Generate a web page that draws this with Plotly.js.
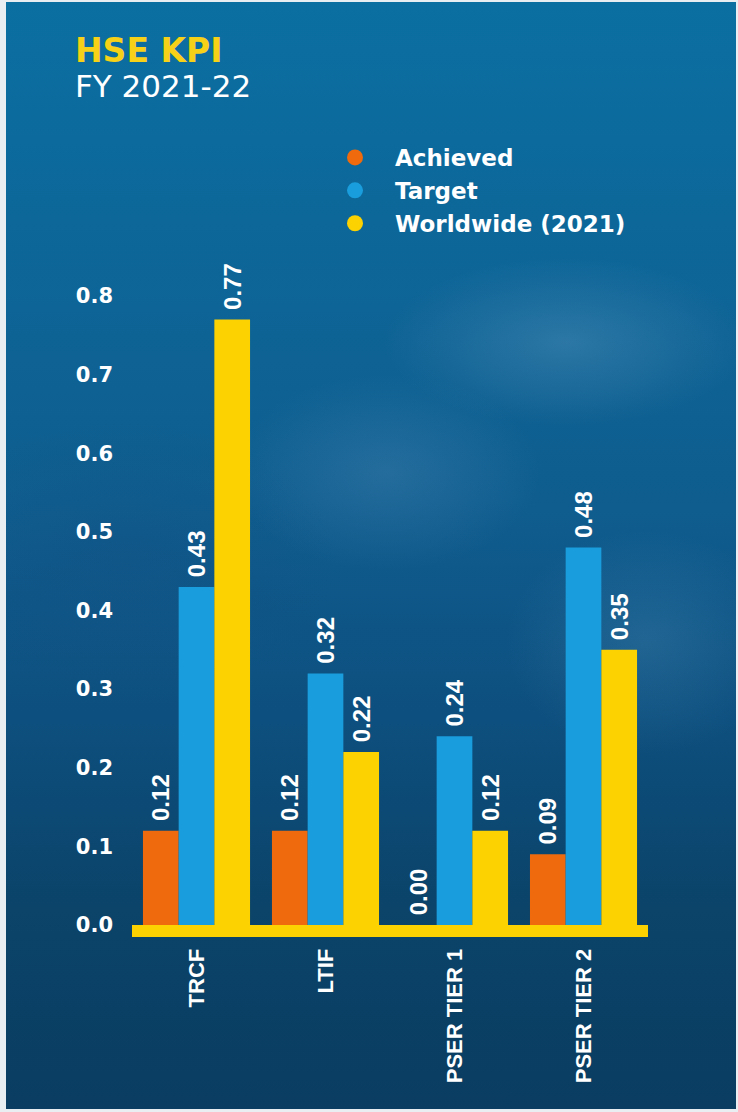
<!DOCTYPE html>
<html>
<head>
<meta charset="utf-8">
<script src="https://cdn.plot.ly/plotly-3.0.1.min.js"></script>
<style>
  html, body { margin: 0; padding: 0; background: #e9eef2; }
  #frame {
    position: absolute; left: 6px; top: 2px; width: 730px; height: 1107px;
    background:
      radial-gradient(ellipse 260px 120px at 560px 340px, rgba(120,170,205,0.28), rgba(120,170,205,0) 70%),
      radial-gradient(ellipse 220px 140px at 380px 470px, rgba(110,160,200,0.22), rgba(110,160,200,0) 70%),
      radial-gradient(ellipse 200px 160px at 640px 640px, rgba(100,160,200,0.22), rgba(100,160,200,0) 70%),
      radial-gradient(ellipse 300px 200px at 120px 560px, rgba(20,80,130,0.35), rgba(20,80,130,0) 70%),
      linear-gradient(to bottom, #0b6fa2 0%, #0d6799 20%, #0f5d8f 45%, #0d4f7e 65%, #0b4369 82%, #0a3d61 100%);
  }
  #chart { position: absolute; left: 0; top: 0; width: 738px; height: 1112px; }
</style>
</head>
<body>
<div id="frame"></div>
<div id="chart"></div>
<script>
const categories = ["TRCF", "LTIF", "PSER TIER 1", "PSER TIER 2"];
const seriesNames = ["Achieved", "Target", "Worldwide (2021)"];
const achieved  = [0.12, 0.12, 0.00, 0.09];
const target    = [0.43, 0.32, 0.24, 0.48];
const worldwide = [0.77, 0.22, 0.12, 0.35];
const yTickVals = [0, 0.1, 0.2, 0.3, 0.4, 0.5, 0.6, 0.7, 0.8];
const yTickText = ["0.0", "0.1", "0.2", "0.3", "0.4", "0.5", "0.6", "0.7", "0.8"];
const titleLine1 = "HSE KPI";
const titleLine2 = "FY 2021-22";

const colors = ["#ef6a0d", "#1a9ddc", "#fcd200"];
const seriesValues = [achieved, target, worldwide];

const libBold = "Liberation Sans, Arial, sans-serif";
const dejaBold = "DejaVu Sans, sans-serif";

const traces = [];
seriesValues.forEach((vals, i) => {
  traces.push({
    type: "bar",
    name: seriesNames[i],
    x: categories,
    y: vals,
    marker: { color: colors[i] },
    text: vals.map(v => "\u00a0" + v.toFixed(2)),
    texttemplate: "%{text}",
    textposition: "outside",
    textangle: -90,
    constraintext: "none",
    cliponaxis: false,
    textfont: { family: libBold, size: 24, color: "#ffffff", weight: 700 },
    showlegend: false,
    hoverinfo: "skip"
  });
});
seriesValues.forEach((vals, i) => {
  traces.push({
    type: "scatter",
    mode: "markers",
    name: seriesNames[i],
    x: [null], y: [null],
    marker: { color: colors[i], size: 16, symbol: "circle" },
    showlegend: true,
    hoverinfo: "skip"
  });
});

const plotL = 132, plotR = 648, plotT = 296, plotB = 925;
const plotH = plotB - plotT, plotW = plotR - plotL;
function fy(px) { return 1 - (px - plotT) / plotH; }
function fx(px) { return (px - plotL) / plotW; }

const layout = {
  width: 738, height: 1112,
  paper_bgcolor: "rgba(0,0,0,0)",
  plot_bgcolor: "rgba(0,0,0,0)",
  margin: { l: plotL, r: 738 - plotR, t: plotT, b: 1112 - plotB, pad: 0 },
  barmode: "group",
  bargap: 0.17,
  bargroupgap: 0,
  showlegend: true,
  legend: {
    x: fx(315), y: fy(136), xanchor: "left", yanchor: "top",
    bgcolor: "rgba(0,0,0,0)",
    font: { family: dejaBold, size: 23, color: "#ffffff", weight: 700 },
    itemwidth: 70,
    traceorder: "normal"
  },
  xaxis: {
    type: "category",
    showgrid: false, zeroline: false,
    showline: true, linecolor: "#fcd200", linewidth: 12,
    ticks: "", tickangle: -90,
    tickfont: { family: libBold, size: 22, color: "#ffffff", weight: 700 },
    ticklabelstandoff: 3,
    fixedrange: true
  },
  yaxis: {
    range: [0, 0.8],
    showgrid: false, zeroline: false, showline: false,
    tickvals: yTickVals, ticktext: yTickText,
    ticks: "",
    tickfont: { family: dejaBold, size: 21, color: "#ffffff", weight: 700 },
    ticklabelstandoff: 18,
    fixedrange: true
  },
  annotations: [
    { xref: "paper", yref: "paper", x: fx(73), y: fy(51), xanchor: "left", yanchor: "middle",
      text: "<b>" + titleLine1 + "</b>", showarrow: false,
      font: { family: dejaBold, size: 33, color: "#f7d117" } },
    { xref: "paper", yref: "paper", x: fx(73), y: fy(86), xanchor: "left", yanchor: "middle",
      text: titleLine2, showarrow: false,
      font: { family: dejaBold, size: 31, color: "#ffffff" } }
  ]
};

Plotly.newPlot("chart", traces, layout, { displayModeBar: false, staticPlot: true });
</script>
</body>
</html>
